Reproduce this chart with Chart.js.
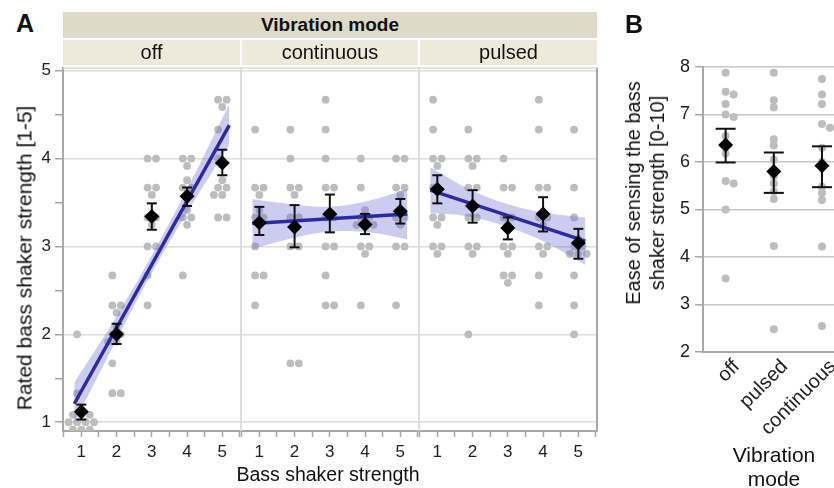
<!DOCTYPE html>
<html>
<head>
<meta charset="utf-8">
<script src="https://cdn.jsdelivr.net/npm/chart.js"></script>
<style>
  html, body { margin: 0; padding: 0; background: #fff; }
  body { width: 834px; height: 488px; position: relative; overflow: hidden;
         font-family: "Liberation Sans", Arial, Helvetica, sans-serif; color: #111; }
  canvas, .lbl, .strip { position: absolute; }
  .strip { text-align: center; z-index: 2; white-space: nowrap; }
  .top { background: #dedac9; font-weight: bold; font-size: 19px; line-height: 26px; }
  .sub { background: #eeeadb; font-size: 20px; line-height: 25px; }
  .lbl { transform: translate(-50%, -50%); white-space: nowrap; line-height: 1; z-index: 2; }
  .rot { transform: translate(-50%, -50%) rotate(-90deg); text-align: center; }
  .panel { font-weight: bold; font-size: 25px; }
</style>
</head>
<body>
<div class="lbl panel" style="left:25px;top:23px">A</div>
<div class="lbl panel" style="left:634px;top:24px">B</div>

<div class="strip top" style="left:63px;top:12px;width:534px;height:26px">Vibration mode</div>
<div class="strip sub" style="left:63px;top:40px;width:177px;height:25px">off</div>
<div class="strip sub" style="left:242px;top:40px;width:176px;height:25px">continuous</div>
<div class="strip sub" style="left:420px;top:40px;width:177px;height:25px">pulsed</div>

<div class="lbl rot" style="left:24px;top:258px;font-size:21px">Rated bass shaker strength [1-5]</div>
<div class="lbl" style="left:328px;top:475px;font-size:19.5px">Bass shaker strength</div>
<div class="lbl rot" style="left:645px;top:193px;font-size:20px;line-height:24px">Ease of sensing the bass<br>shaker strength [0-10]</div>
<div class="lbl" style="left:774px;top:467px;font-size:21px;line-height:24px;text-align:center">Vibration<br>mode</div>

<canvas id="facetOff" width="245" height="448" style="left:0px;top:40px"></canvas>
<canvas id="facetCont" width="186" height="448" style="left:237px;top:40px"></canvas>
<canvas id="facetPuls" width="186" height="448" style="left:415px;top:40px"></canvas>
<canvas id="ease" width="234" height="448" style="left:600px;top:40px"></canvas>

<script>
// ---- panel A: rated strength per bass shaker level, one list of ratings per level
const strengths = [1, 2, 3, 4, 5];

const ratingsOff = [
  [2, 1.33, 1, 1, 1, 1, 1, 1, 1, 1, 1, 1],
  [2.67, 2.33, 2.33, 2.33, 2, 2, 2, 2, 2, 1.67, 1.33, 1.33],
  [4, 4, 3.67, 3.67, 3.67, 3.33, 3.33, 3.33, 3, 3, 2.67, 2.33],
  [4, 4, 4, 3.67, 3.67, 3.67, 3.67, 3.33, 3.33, 3.33, 3.33, 2.67],
  [4.67, 4.67, 4.67, 4.33, 4, 3.67, 3.67, 3.67, 3.67, 3.67, 3.33, 3.33]
];
const ratingsCont = [
  [4.33, 3.67, 3.67, 3.67, 3.33, 3.33, 3.33, 3.33, 3, 2.67, 2.67, 2.33],
  [4.33, 4, 3.67, 3.67, 3.67, 3.33, 3.33, 3.33, 3, 3, 1.67, 1.67],
  [4.67, 4.33, 4, 3.67, 3.67, 3.33, 3.33, 3, 3, 2.67, 2.33, 2.33],
  [4, 3.67, 3.33, 3.33, 3.33, 3.33, 3.33, 3.33, 3, 3, 3, 2.33],
  [4, 4, 3.67, 3.67, 3.67, 3.33, 3.33, 3.33, 3.33, 3, 3, 2.33]
];
const ratingsPuls = [
  [4.67, 4.33, 4, 4, 4, 3.67, 3.33, 3.33, 3.33, 3, 3, 3],
  [4.33, 4, 4, 4, 3.67, 3.67, 3.33, 3.33, 3, 3, 3, 2],
  [4, 3.67, 3.67, 3.33, 3.33, 3.33, 3, 3, 3, 2.67, 2.67, 2.67],
  [4.67, 4.33, 3.67, 3.67, 3.33, 3.33, 3.33, 3, 3, 3, 2.67, 2.33],
  [4.33, 3.67, 3.33, 3, 3, 3, 3, 3, 3, 2.67, 2.33, 2]
];

// means with error bar ends
const meanOff = [1.12, 2.0, 3.34, 3.57, 3.95];
const hiOff   = [1.20, 2.12, 3.49, 3.67, 4.10];
const loOff   = [1.03, 1.89, 3.19, 3.46, 3.81];
const meanCont = [3.27, 3.22, 3.37, 3.25, 3.40];
const hiCont   = [3.45, 3.47, 3.59, 3.37, 3.54];
const loCont   = [3.13, 2.99, 3.16, 3.14, 3.26];
const meanPuls = [3.65, 3.46, 3.21, 3.37, 3.04];
const hiPuls   = [3.81, 3.64, 3.33, 3.56, 3.20];
const loPuls   = [3.49, 3.27, 3.08, 3.17, 2.86];

// regression lines and confidence bands
const fitX = [0.8, 5.2];
const fitOff  = [1.21, 4.38];
const fitCont = [3.26, 3.37];
const fitPuls = [3.64, 3.06];
const bandX = [0.8, 1.9, 3.0, 4.1, 5.2];
const bandHiOff  = [1.45, 2.14, 2.90, 3.73, 4.62];
const bandLoOff  = [0.99, 1.86, 2.70, 3.45, 4.16];
const bandHiCont = [3.54, 3.48, 3.45, 3.52, 3.65];
const bandLoCont = [2.97, 3.09, 3.17, 3.16, 3.08];
const bandHiPuls = [3.90, 3.65, 3.48, 3.38, 3.33];
const bandLoPuls = [3.38, 3.34, 3.22, 3.04, 2.79];

// ---- panel B: ease of sensing per vibration mode
const easeModes = ['off', 'pulsed', 'continuous'];
const easeOff   = [7.88, 7.48, 7.42, 7.22, 7.0, 6.95, 6.55, 6.18, 5.6, 5.55, 5.0, 3.55];
const easePuls  = [7.88, 7.3, 7.15, 6.48, 6.35, 6.05, 5.7, 5.55, 5.38, 5.22, 4.23, 2.48];
const easeCont  = [7.75, 7.42, 7.22, 6.8, 6.72, 6.3, 6.0, 5.48, 5.35, 5.2, 4.22, 2.55];
const easeMean = [6.36, 5.80, 5.92];
const easeHi   = [6.70, 6.20, 6.33];
const easeLo   = [5.99, 5.35, 5.47];

const DOT = '#bdbdbd';
const AXIS = '#a8a8a8';
const BLUE = '#2a2aa6';
const BAND = 'rgba(110,110,215,0.35)';
const NONE = 'rgba(0,0,0,0)';

// hex packing for equal ratings, nearest cells first (lower row before upper)
function hexCells() {
  const cells = [];
  for (let r = -3; r <= 3; r++) {
    for (let k = -4; k <= 4; k++) {
      const c = Math.abs(r) % 2 === 0 ? k + 0.5 : k;
      cells.push({c: c, r: r, d: Math.hypot(c, r * 0.866)});
    }
  }
  cells.sort((a, b) => a.d - b.d || a.r - b.r || a.c - b.c);
  return cells;
}
const CELLS = hexCells();

function swarmA(ratings) {
  const pts = [];
  ratings.forEach((vals, i) => {
    const groups = new Map();
    vals.forEach(v => {
      const key = v.toFixed(2);
      groups.set(key, (groups.get(key) || 0) + 1);
    });
    groups.forEach((n, key) => {
      for (let j = 0; j < n; j++) {
        pts.push({x: strengths[i] + CELLS[j].c * 0.24, y: Number(key) + CELLS[j].r * 0.084});
      }
    });
  });
  return pts;
}

// simple beeswarm for panel B (roughly 48 px per category, 47 px per unit)
function swarmB(vals, i) {
  const placed = [];
  return vals.map(v => {
    const py = v * 47.4;
    let off = 0;
    for (const s of [0, 1, -1, 2, -2, 3, -3]) {
      if (placed.every(p => Math.hypot(p.x - s * 4, p.y - py) >= 6)) { off = s * 4; break; }
    }
    placed.push({x: off, y: py});
    return {x: i + off / 48, y: v};
  });
}

function errorBars(xs, hi, lo, cap) {
  return xs.map((x, i) => ({
    data: [{x: x, y: lo[i]}, {x: x, y: hi[i]}],
    showLine: true, borderColor: '#111', borderWidth: 2,
    pointStyle: 'line', pointRadius: cap, pointBorderWidth: 2, pointBorderColor: '#111',
    order: 2
  }));
}

const framePlugin = {
  id: 'frame',
  beforeDatasetsDraw(chart, args, opts) {
    const {ctx, chartArea: a} = chart;
    ctx.save();
    ctx.strokeStyle = '#dcdcdc';
    ctx.lineWidth = 1.5;
    ctx.beginPath();
    if (opts.left) { ctx.moveTo(a.left, a.bottom); ctx.lineTo(a.left, a.top); }
    else ctx.moveTo(a.left, a.top);
    ctx.lineTo(a.right, a.top);
    ctx.lineTo(a.right, a.bottom);
    ctx.stroke();
    if (opts.edge) {
      ctx.strokeStyle = AXIS;
      ctx.lineWidth = 2;
      ctx.beginPath();
      ctx.moveTo(a.right, a.top);
      ctx.lineTo(a.right, a.bottom);
      ctx.stroke();
    }
    ctx.restore();
  }
};

function facetChart(id, c) {
  const datasets = [
    {data: swarmA(c.ratings), pointRadius: 3.9, pointBackgroundColor: DOT, pointBorderWidth: 0, order: 5},
    {data: bandX.map((x, i) => ({x: x, y: c.bandHi[i]})), showLine: true, fill: '+1', backgroundColor: BAND,
     borderColor: NONE, pointRadius: 0, tension: 0.35, order: 4},
    {data: bandX.map((x, i) => ({x: x, y: c.bandLo[i]})), showLine: true, fill: false,
     borderColor: NONE, pointRadius: 0, tension: 0.35, order: 4},
    {data: fitX.map((x, i) => ({x: x, y: c.fit[i]})), showLine: true, borderColor: BLUE, borderWidth: 3.5,
     pointRadius: 0, order: 3},
    ...errorBars(strengths, c.hi, c.lo, 5),
    {data: strengths.map((x, i) => ({x: x, y: c.mean[i]})), pointStyle: 'rectRot', pointRadius: 7.5,
     pointBackgroundColor: '#000', pointBorderWidth: 0, order: 1}
  ];

  new Chart(document.getElementById(id), {
    type: 'scatter',
    data: {datasets: datasets},
    plugins: [framePlugin],
    options: {
      responsive: false,
      animation: false,
      events: [],
      devicePixelRatio: 1,
      layout: {padding: c.padding, autoPadding: false},
      plugins: {legend: {display: false}, tooltip: {enabled: false}, frame: c.frame},
      scales: {
        x: {
          type: 'linear', min: 0.48, max: 5.53,
          ticks: {stepSize: 0.5, includeBounds: false, autoSkip: false, maxRotation: 0, padding: 5,
                  color: '#222', font: {size: 17},
                  callback: v => strengths.includes(v) ? String(v) : ''},
          grid: {drawOnChartArea: false, tickLength: 6, tickColor: AXIS, tickWidth: 1.5},
          border: {color: AXIS, width: 2},
          afterFit: s => { s.height = 57; s.paddingLeft = 0; s.paddingRight = 0; }
        },
        y: {
          type: 'linear', min: 0.9, max: 5.03,
          ticks: {display: c.first, stepSize: 0.5, includeBounds: false, padding: 4,
                  color: '#222', font: {size: 17},
                  callback: v => Number.isInteger(v) ? String(v) : ''},
          grid: {color: ctx => Number.isInteger(ctx.tick.value) ? '#dcdcdc' : NONE, lineWidth: 1.5,
                 drawTicks: c.first, tickLength: 8, tickColor: AXIS, tickWidth: 1.5},
          border: {display: c.first, color: AXIS, width: 2},
          afterFit: s => { s.width = c.yWidth; s.paddingTop = 0; s.paddingBottom = 0; }
        }
      }
    }
  });
}

facetChart('facetOff', {
  ratings: ratingsOff, mean: meanOff, hi: hiOff, lo: loOff, fit: fitOff,
  bandHi: bandHiOff, bandLo: bandLoOff, first: true, yWidth: 63,
  padding: {top: 28, left: 0, right: 4, bottom: 0}, frame: {left: false}
});
facetChart('facetCont', {
  ratings: ratingsCont, mean: meanCont, hi: hiCont, lo: loCont, fit: fitCont,
  bandHi: bandHiCont, bandLo: bandLoCont, first: false, yWidth: 0,
  padding: {top: 28, left: 4, right: 4, bottom: 0}, frame: {left: true}
});
facetChart('facetPuls', {
  ratings: ratingsPuls, mean: meanPuls, hi: hiPuls, lo: loPuls, fit: fitPuls,
  bandHi: bandHiPuls, bandLo: bandLoPuls, first: false, yWidth: 0,
  padding: {top: 28, left: 4, right: 4, bottom: 0}, frame: {left: true, edge: true}
});

// ---- panel B chart
const easeSets = [easeOff, easePuls, easeCont];
new Chart(document.getElementById('ease'), {
  type: 'scatter',
  data: {
    datasets: [
      ...easeSets.map((vals, i) => ({data: swarmB(vals, i), pointRadius: 4, pointBackgroundColor: DOT,
                                     pointBorderWidth: 0, order: 5})),
      ...errorBars([0, 1, 2], easeHi, easeLo, 10),
      {data: easeMean.map((m, i) => ({x: i, y: m})), pointStyle: 'rectRot', pointRadius: 7.5,
       pointBackgroundColor: '#000', pointBorderWidth: 0, order: 1}
    ]
  },
  options: {
    responsive: false,
    animation: false,
    events: [],
    devicePixelRatio: 1,
    layout: {padding: {top: 27, left: 0, right: 0, bottom: 0}, autoPadding: false},
    plugins: {legend: {display: false}, tooltip: {enabled: false}},
    scales: {
      x: {
        type: 'linear', min: -0.47, max: 2.25,
        ticks: {stepSize: 1, includeBounds: false, autoSkip: false, minRotation: 45, maxRotation: 45,
                padding: -5, labelOffset: 11, color: '#222', font: {size: 20},
                callback: v => easeModes[v] !== undefined ? easeModes[v] : ''},
        grid: {display: false},
        border: {color: AXIS, width: 2},
        afterFit: s => { s.height = 136; s.paddingLeft = 0; s.paddingRight = 0; }
      },
      y: {
        type: 'linear', min: 2, max: 8,
        ticks: {stepSize: 1, padding: 5, color: '#222', font: {size: 18}},
        grid: {color: '#c8c8c8', lineWidth: 1.5, tickLength: 8, tickColor: AXIS, tickWidth: 1.5},
        border: {color: AXIS, width: 2},
        afterFit: s => { s.width = 103; s.paddingTop = 0; s.paddingBottom = 0; }
      }
    }
  }
});
</script>
</body>
</html>
